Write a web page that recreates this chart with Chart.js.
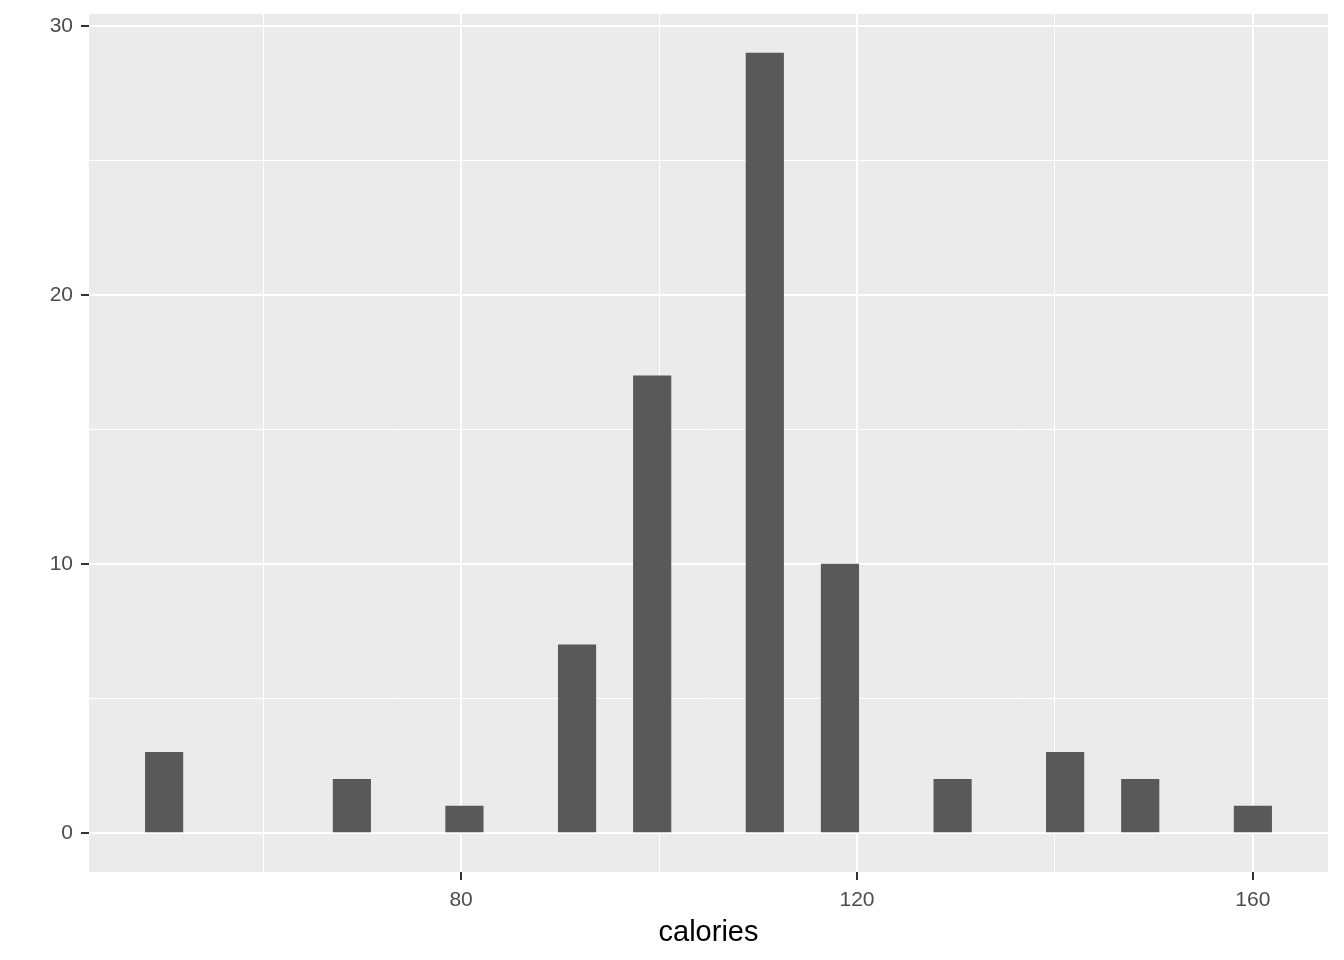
<!DOCTYPE html>
<html>
<head>
<meta charset="utf-8">
<script src="https://cdn.jsdelivr.net/npm/chart.js@4.4.0/dist/chart.umd.min.js"></script>
<style>
html,body{margin:0;padding:0;background:#fff;}
#wrap{width:1344px;height:960px;}
</style>
</head>
<body>
<div id="wrap"><canvas id="c" width="1344" height="960"></canvas></div>
<script>
// Histogram of cereal calories, 30 bins (binwidth = 110/29)
const binCenters = [50.00,53.79,57.59,61.38,65.17,68.97,72.76,76.55,80.34,84.14,87.93,91.72,95.52,99.31,103.10,106.90,110.69,114.48,118.28,122.07,125.86,129.66,133.45,137.24,141.03,144.83,148.62,152.41,156.21,160.00];
const counts = [3,0,0,0,0,2,0,0,1,0,0,7,0,17,0,0,29,0,10,0,0,2,0,0,3,0,2,0,0,1];
const xTicks = [60,80,100,120,140,160];
const xLabeled = [80,120,160];
const yTicks = [0,5,10,15,20,25,30];
const yLabeled = [0,10,20,30];
const xTitle = 'calories';

const panelBg = {
  id:'panelBg',
  beforeDraw(chart){
    const {ctx, chartArea:a} = chart;
    ctx.save();
    ctx.fillStyle = '#EBEBEB';
    ctx.fillRect(a.left, a.top, a.right-a.left, a.bottom-a.top);
    ctx.restore();
  }
};

const FONT = "'Liberation Sans', Arial, sans-serif";

new Chart(document.getElementById('c'), {
  type:'bar',
  data:{
    datasets:[{
      data: binCenters.map((x,i)=>({x:x, y:counts[i]})),
      backgroundColor:(c)=> (c.raw && c.raw.y > 0) ? '#595959' : 'rgba(0,0,0,0)',
      borderWidth:0,
      barPercentage:1,
      categoryPercentage:1
    }]
  },
  plugins:[panelBg],
  options:{
    responsive:false,
    animation:false,
    layout:{padding:{top:14,right:16,left:0,bottom:0}},
    plugins:{legend:{display:false},tooltip:{enabled:false}},
    scales:{
      x:{
        type:'linear',
        min:42.41, max:167.59,
        offset:false,
        afterBuildTicks(s){ s.ticks = xTicks.map(v=>({value:v})); },
        afterFit(s){ s.height = 88; s.paddingLeft = 0; s.paddingRight = 0; },
        border:{display:false},
        grid:{
          offset:false,
          color:'#FFFFFF',
          lineWidth:(c)=> xLabeled.includes(c.tick && c.tick.value) ? 2 : 1,
          tickColor:(c)=> xLabeled.includes(c.tick && c.tick.value) ? '#333333' : 'rgba(0,0,0,0)',
          tickLength:8,
          tickWidth:2
        },
        ticks:{
          autoSkip:false, maxRotation:0,
          color:'#4D4D4D',
          font:{family:FONT,size:21},
          padding:8,
          callback:(v)=> xLabeled.includes(v) ? String(v) : ''
        },
        title:{display:true,text:xTitle,color:'#000000',font:{family:FONT,size:29},padding:{top:2,bottom:10}}
      },
      y:{
        type:'linear',
        min:-1.45, max:30.45,
        afterBuildTicks(s){ s.ticks = yTicks.map(v=>({value:v})); },
        afterFit(s){ s.width = 89; s.paddingTop = 0; s.paddingBottom = 0; },
        border:{display:false},
        grid:{
          color:'#FFFFFF',
          lineWidth:(c)=> yLabeled.includes(c.tick && c.tick.value) ? 2 : 1,
          tickColor:(c)=> yLabeled.includes(c.tick && c.tick.value) ? '#333333' : 'rgba(0,0,0,0)',
          tickLength:8,
          tickWidth:2
        },
        ticks:{
          autoSkip:false,
          color:'#4D4D4D',
          font:{family:FONT,size:21},
          padding:8,
          callback:(v)=> yLabeled.includes(v) ? String(v) : ''
        }
      }
    }
  }
});
</script>
</body>
</html>
